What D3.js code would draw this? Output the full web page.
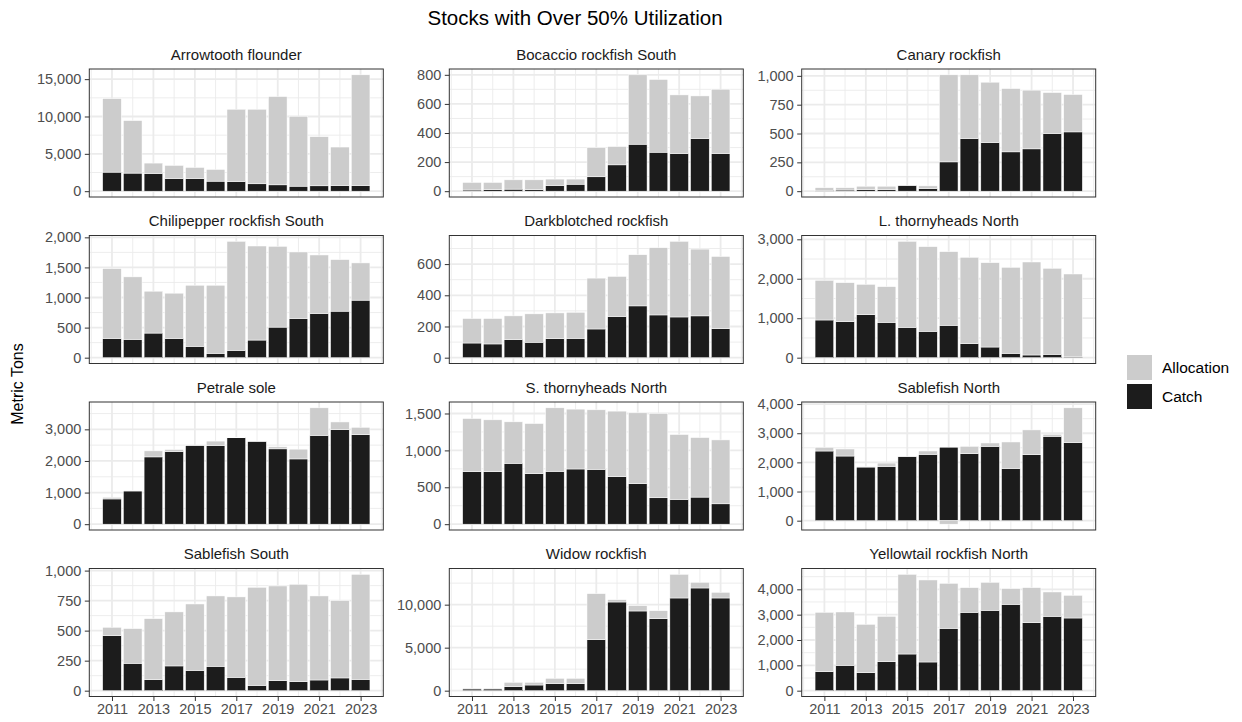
<!DOCTYPE html>
<html>
<head>
<meta charset="utf-8">
<script src="https://cdn.jsdelivr.net/npm/d3@7"></script>
<style>
  body { margin: 0; background: #ffffff; }
  svg { display: block; }
  text { font-family: "Liberation Sans", Arial, Helvetica, sans-serif; }
</style>
</head>
<body>
<svg id="chart" width="1242" height="722"></svg>
<script>
// ---- data (metric tons) ----
const years = [2011, 2012, 2013, 2014, 2015, 2016, 2017, 2018, 2019, 2020, 2021, 2022, 2023];
const yearTicks = [2011, 2013, 2015, 2017, 2019, 2021, 2023];
const seriesNames = ["Allocation", "Catch"];

const arrowtoothAllocation = [12400, 9450, 3760, 3450, 3180, 2910, 10970, 10970, 12670, 10030, 7300, 5910, 15580];
const arrowtoothCatch      = [2550, 2420, 2370, 1700, 1700, 1340, 1300, 990, 850, 670, 720, 760, 760];
const arrowtoothTicks      = [0, 5000, 10000, 15000];

const bocaccioAllocation = [60, 60, 78, 78, 83, 83, 300, 307, 800, 768, 662, 655, 701];
const bocaccioCatch      = [8, 11, 14, 11, 39, 48, 99, 181, 323, 268, 259, 362, 259];
const bocaccioTicks      = [0, 200, 400, 600, 800];

const canaryAllocation = [30, 30, 43, 43, 52, 46, 1009, 1009, 945, 890, 876, 855, 838];
const canaryCatch      = [8, 10, 14, 14, 49, 23, 254, 457, 422, 341, 367, 500, 514];
const canaryTicks      = [0, 250, 500, 750, 1000];

const chilipepperAllocation = [1481, 1343, 1105, 1072, 1204, 1204, 1934, 1856, 1851, 1757, 1707, 1630, 1575];
const chilipepperCatch      = [320, 304, 409, 320, 188, 72, 122, 293, 508, 652, 735, 773, 956];
const chilipepperTicks      = [0, 500, 1000, 1500, 2000];

const darkblotchedAllocation = [251, 251, 268, 281, 287, 291, 510, 521, 660, 705, 746, 696, 649];
const darkblotchedCatch      = [94, 88, 116, 99, 122, 124, 184, 264, 332, 274, 261, 268, 186];
const darkblotchedTicks      = [0, 200, 400, 600];

const lThornyAllocation = [1960, 1901, 1859, 1800, 2949, 2814, 2687, 2543, 2408, 2290, 2425, 2265, 2121];
const lThornyCatch      = [955, 913, 1090, 896, 769, 668, 820, 355, 270, 110, 68, 85, 20];
const lThornyTicks      = [0, 1000, 2000, 3000];

const petraleAllocation = [851, 1060, 2319, 2362, 2500, 2628, 2740, 2628, 2447, 2373, 3681, 3234, 3064];
const petraleCatch      = [798, 1050, 2128, 2298, 2490, 2490, 2734, 2620, 2383, 2064, 2809, 2990, 2830];
const petraleTicks      = [0, 1000, 2000, 3000];

const sThornyAllocation = [1432, 1414, 1387, 1364, 1577, 1559, 1550, 1532, 1509, 1500, 1215, 1174, 1142];
const sThornyCatch      = [711, 711, 825, 684, 716, 748, 743, 644, 548, 358, 335, 367, 276];
const sThornyTicks      = [0, 500, 1000, 1500];

const sablefishNAllocation = [2516, 2459, 1850, 1976, 2200, 2390, 2400, 2551, 2666, 2700, 3114, 2964, 3872];
const sablefishNCatch      = [2390, 2218, 1840, 1862, 2195, 2275, 2520, 2298, 2551, 1792, 2264, 2895, 2677];
const sablefishNTicks      = [0, 1000, 2000, 3000, 4000];

const sablefishSAllocation = [528, 517, 600, 656, 722, 789, 781, 861, 872, 886, 789, 750, 969];
const sablefishSCatch      = [458, 228, 92, 206, 169, 203, 111, 44, 83, 75, 89, 106, 94];
const sablefishSTicks      = [0, 250, 500, 750, 1000];

const widowAllocation = [300, 300, 969, 969, 1434, 1434, 11279, 10581, 9884, 9302, 13527, 12597, 11434];
const widowCatch      = [200, 200, 465, 659, 814, 814, 5930, 10310, 9264, 8372, 10775, 11938, 10775];
const widowTicks      = [0, 5000, 10000];

const yellowtailAllocation = [3092, 3105, 2619, 2934, 4592, 4369, 4237, 4066, 4276, 4026, 4066, 3895, 3763];
const yellowtailCatch      = [750, 1000, 711, 1145, 1447, 1132, 2461, 3092, 3171, 3408, 2684, 2934, 2868];
const yellowtailTicks      = [0, 1000, 2000, 3000, 4000];

const stockNames = [
  "Arrowtooth flounder", "Bocaccio rockfish South", "Canary rockfish",
  "Chilipepper rockfish South", "Darkblotched rockfish", "L. thornyheads North",
  "Petrale sole", "S. thornyheads North", "Sablefish North",
  "Sablefish South", "Widow rockfish", "Yellowtail rockfish North"
];

const panels = [
  [arrowtoothAllocation, arrowtoothCatch, arrowtoothTicks],
  [bocaccioAllocation, bocaccioCatch, bocaccioTicks],
  [canaryAllocation, canaryCatch, canaryTicks],
  [chilipepperAllocation, chilipepperCatch, chilipepperTicks],
  [darkblotchedAllocation, darkblotchedCatch, darkblotchedTicks],
  [lThornyAllocation, lThornyCatch, lThornyTicks],
  [petraleAllocation, petraleCatch, petraleTicks],
  [sThornyAllocation, sThornyCatch, sThornyTicks],
  [sablefishNAllocation, sablefishNCatch, sablefishNTicks],
  [sablefishSAllocation, sablefishSCatch, sablefishSTicks],
  [widowAllocation, widowCatch, widowTicks],
  [yellowtailAllocation, yellowtailCatch, yellowtailTicks]
].map(([alloc, cat, ticks], i) => ({ name: stockNames[i], alloc, cat, ticks }));

// ---- layout ----
const colLeft = [89.3, 449.3, 801.7];
const rowTop = [69, 235.5, 402, 568.5];
const panelW = 294, panelH = 128;
const colors = { Allocation: "#cccccc", Catch: "#1c1c1c" };
const fontTick = 14.5;

const svg = d3.select("#chart");

svg.append("text")
  .attr("x", 575).attr("y", 25)
  .attr("text-anchor", "middle")
  .attr("font-size", 20.5).attr("fill", "#000")
  .text("Stocks with Over 50% Utilization");

svg.append("text")
  .attr("transform", "translate(23,384) rotate(-90)")
  .attr("text-anchor", "middle")
  .attr("font-size", 16).attr("fill", "#000")
  .text("Metric Tons");

// shared x scale (continuous years, bars 0.9 wide, 5% expansion)
const xLo = years[0] - 0.45, xHi = years[years.length - 1] + 0.45;
const xPad = (xHi - xLo) * 0.05;
const x = d3.scaleLinear().domain([xLo - xPad, xHi + xPad]).range([0, panelW]);
const barW = x(0.9) - x(0);

function minorBreaks(major, lo, hi) {
  const step = major[1] - major[0];
  const out = [];
  for (let v = major[0] - step / 2; v <= major[major.length - 1] + step / 2 + 1e-9; v += step) {
    if (v >= lo && v <= hi) out.push(v);
  }
  return out;
}

panels.forEach((p, i) => {
  const col = i % 3, row = Math.floor(i / 3);
  const g = svg.append("g").attr("transform", `translate(${colLeft[col]},${rowTop[row]})`);

  // stacked segments: catch from 0; remaining allocation stacks on catch, or below 0 when negative
  const segs = [];
  years.forEach((yr, j) => {
    const c = p.cat[j], rem = p.alloc[j] - c;
    segs.push({ yr, key: "Catch", y0: 0, y1: c });
    if (rem >= 0) segs.push({ yr, key: "Allocation", y0: c, y1: c + rem });
    else segs.push({ yr, key: "Allocation", y0: 0, y1: rem });
  });
  const lo = Math.min(0, d3.min(segs, d => Math.min(d.y0, d.y1)));
  const hi = d3.max(segs, d => Math.max(d.y0, d.y1));
  const pad = (hi - lo) * 0.05;
  const y = d3.scaleLinear().domain([lo - pad, hi + pad]).range([panelH, 0]);

  // background + grid
  g.append("rect").attr("width", panelW).attr("height", panelH).attr("fill", "#fff");
  const yMinor = minorBreaks(p.ticks, lo - pad, hi + pad);
  const xMinor = minorBreaks(yearTicks, x.domain()[0], x.domain()[1]);
  g.selectAll(".ymin").data(yMinor).join("line")
    .attr("x1", 0).attr("x2", panelW).attr("y1", d => y(d)).attr("y2", d => y(d))
    .attr("stroke", "#ebebeb").attr("stroke-width", 0.9);
  g.selectAll(".xmin").data(xMinor).join("line")
    .attr("y1", 0).attr("y2", panelH).attr("x1", d => x(d)).attr("x2", d => x(d))
    .attr("stroke", "#ebebeb").attr("stroke-width", 0.9);
  g.selectAll(".ymaj").data(p.ticks).join("line")
    .attr("x1", 0).attr("x2", panelW).attr("y1", d => y(d)).attr("y2", d => y(d))
    .attr("stroke", "#ebebeb").attr("stroke-width", 1.8);
  g.selectAll(".xmaj").data(yearTicks).join("line")
    .attr("y1", 0).attr("y2", panelH).attr("x1", d => x(d)).attr("x2", d => x(d))
    .attr("stroke", "#ebebeb").attr("stroke-width", 1.8);

  // bars
  g.selectAll(".seg").data(segs).join("rect")
    .attr("x", d => x(d.yr) - barW / 2)
    .attr("width", barW)
    .attr("y", d => y(Math.max(d.y0, d.y1)))
    .attr("height", d => Math.abs(y(d.y0) - y(d.y1)))
    .attr("fill", d => colors[d.key])
    .attr("stroke", "#ffffff").attr("stroke-width", 0.5);

  // border
  g.append("rect").attr("width", panelW).attr("height", panelH)
    .attr("fill", "none").attr("stroke", "#333333").attr("stroke-width", 1);

  // strip title
  g.append("text").attr("x", panelW / 2).attr("y", -9.5)
    .attr("text-anchor", "middle").attr("font-size", 15).attr("fill", "#1a1a1a")
    .text(p.name);

  // y axis
  const yAxis = g.append("g").call(
    d3.axisLeft(y).tickValues(p.ticks).tickFormat(d3.format(",")).tickSize(4.5).tickPadding(3.5)
  );
  yAxis.select(".domain").remove();
  yAxis.selectAll(".tick line").attr("stroke", "#333333").attr("stroke-width", 1);
  yAxis.selectAll(".tick text").attr("fill", "#4d4d4d").attr("font-size", fontTick)
    .attr("font-family", "Liberation Sans, Arial, sans-serif");

  // x axis only under the bottom row
  if (row === 3) {
    const xAxis = g.append("g").attr("transform", `translate(0,${panelH})`).call(
      d3.axisBottom(x).tickValues(yearTicks).tickFormat(d3.format("d")).tickSize(4.5).tickPadding(3)
    );
    xAxis.select(".domain").remove();
    xAxis.selectAll(".tick line").attr("stroke", "#333333").attr("stroke-width", 1);
    xAxis.selectAll(".tick text").attr("fill", "#4d4d4d").attr("font-size", fontTick)
      .attr("font-family", "Liberation Sans, Arial, sans-serif");
  }
});

// legend
const legend = svg.append("g").attr("transform", "translate(1127,355)");
seriesNames.forEach((s, i) => {
  legend.append("rect").attr("x", 0).attr("y", i * 29).attr("width", 25).attr("height", 25)
    .attr("fill", colors[s]);
  legend.append("text").attr("x", 35).attr("y", i * 29 + 12.5).attr("dy", "0.35em")
    .attr("font-size", 15.5).attr("fill", "#000").text(s);
});
</script>
</body>
</html>
